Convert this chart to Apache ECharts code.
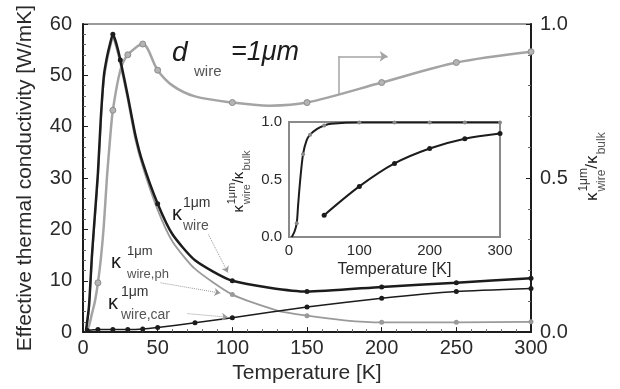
<!DOCTYPE html>
<html>
<head>
<meta charset="utf-8">
<script src="https://cdn.jsdelivr.net/npm/echarts@6/dist/echarts.min.js"></script>
<style>
  html, body { margin: 0; padding: 0; background: #fff; }
  #chart { width: 620px; height: 389px; }
</style>
</head>
<body>
<div id="chart"></div>
<script>
// main panel: total / phonon / carrier conductivity of the 1um wire [W/mK]
const tempTotal = [2, 4, 6, 8, 10, 12, 14, 16, 18, 20, 22, 25, 30, 35, 40, 50, 60, 75, 100, 150, 200, 250, 300]
const kTotal = [0.3, 5, 15, 23, 31, 42, 50, 53.5, 56, 58, 56.5, 53, 46, 38.5, 33, 25, 19, 14, 10, 7.9, 8.8, 9.6, 10.5]
const totalMarks = [20, 25, 50, 100, 150, 200, 250, 300]

const tempPh = [2, 4, 6, 8, 10, 12, 14, 16, 18, 20, 22, 25, 30, 35, 40, 50, 60, 75, 100, 130, 150, 175, 200, 250, 300]
const kPh = [0.1, 4.4, 14.2, 22.2, 30, 41, 49, 52.6, 55.2, 57.2, 55.7, 52.2, 45.2, 37.6, 32.2, 23.8, 17.6, 12.3, 7.3, 4.2, 3.2, 2.3, 1.9, 1.9, 2.0]
const phMarks = [100, 150, 200, 250, 300]

const tempCar = [3, 10, 20, 30, 40, 50, 75, 100, 150, 200, 250, 300]
const kCar = [0.3, 0.5, 0.5, 0.5, 0.6, 0.9, 1.8, 2.8, 4.9, 6.6, 7.9, 8.5]

// ratio to bulk (right axis)
const tempRatio = [2, 4, 6, 8, 10, 12, 14, 16, 18, 20, 25, 30, 40, 50, 60, 75, 100, 125, 150, 200, 250, 300]
const ratioWire = [0, 0.02, 0.06, 0.1, 0.16, 0.24, 0.35, 0.5, 0.62, 0.72, 0.85, 0.9, 0.935, 0.85, 0.8, 0.765, 0.745, 0.735, 0.745, 0.81, 0.875, 0.91]
const ratioMarks = [10, 20, 30, 40, 50, 100, 150, 200, 250, 300]

// inset: phonon and carrier ratios
const insetTempPh = [4, 8, 11, 13, 16, 20, 25, 30, 40, 50, 60, 100, 150, 200, 250, 300]
const insetPh = [0, 0.05, 0.12, 0.28, 0.5, 0.72, 0.84, 0.89, 0.94, 0.97, 0.985, 0.995, 0.995, 0.995, 0.995, 0.995]
const insetPhMarks = [11, 20, 30, 50, 100, 150, 200, 250, 300]
const insetTempCar = [50, 100, 150, 200, 250, 300]
const insetCar = [0.19, 0.44, 0.64, 0.77, 0.855, 0.9]

const tempTicks = [0, 50, 100, 150, 200, 250, 300]

const BLACK = '#1c1c1c'
const GRAY = '#a4a4a4'
const FONT = 'Liberation Sans'

function pts(ts, vs, marks) {
  return ts.map((t, i) => ({
    value: [t, vs[i]],
    symbol: marks && !marks.includes(t) ? 'none' : 'circle'
  }))
}

// kappa with stacked superscript / subscript
function kappa(x, y, sup, sub, fs, small, gap, rot) {
  const kids = [
    { type: 'text', x: 0, y: 0, style: { text: 'κ', font: fs + 'px ' + FONT, fill: BLACK, verticalAlign: 'middle' } }
  ]
  if (sup) kids.push({ type: 'text', x: gap, y: -fs * 0.55, style: { text: sup, font: small + 'px ' + FONT, fill: '#333', verticalAlign: 'middle' } })
  if (sub) kids.push({ type: 'text', x: gap, y: fs * 0.6, style: { text: sub, font: small + 'px ' + FONT, fill: '#555', verticalAlign: 'middle' } })
  return { type: 'group', x: x, y: y, rotation: rot || 0, children: kids }
}

// rotated ratio label  κ^1μm_wire / κ_bulk
function ratioLabel(cx, cy, fs, small) {
  const w = fs * 0.55
  const part = small * 1.9
  const total = w + part + fs * 0.3 + w + small * 2.1
  const x0 = -total / 2
  const kids = [
    { type: 'text', x: x0, y: 0, style: { text: 'κ', font: fs + 'px ' + FONT, fill: BLACK, verticalAlign: 'middle' } },
    { type: 'text', x: x0 + w, y: -fs * 0.5, style: { text: '1μm', font: small + 'px ' + FONT, fill: '#333', verticalAlign: 'middle' } },
    { type: 'text', x: x0 + w, y: fs * 0.55, style: { text: 'wire', font: small + 'px ' + FONT, fill: '#555', verticalAlign: 'middle' } },
    { type: 'text', x: x0 + w + part, y: 0, style: { text: '/κ', font: fs + 'px ' + FONT, fill: BLACK, verticalAlign: 'middle' } },
    { type: 'text', x: x0 + w + part + fs * 0.85, y: fs * 0.55, style: { text: 'bulk', font: small + 'px ' + FONT, fill: '#555', verticalAlign: 'middle' } }
  ]
  return { type: 'group', x: cx, y: cy, rotation: Math.PI / 2, children: kids }
}

const chart = echarts.init(document.getElementById('chart'))

const axisText = { color: '#2a2a2a', fontFamily: FONT, fontSize: 20 }
const insetText = { color: '#2a2a2a', fontFamily: FONT, fontSize: 15 }

const option = {
  animation: false,
  backgroundColor: '#fff',
  grid: [
    { left: 83, right: 89, top: 24, bottom: 52, show: true, borderColor: '#9a9a9a', borderWidth: 2 },
    { left: 289, top: 122, width: 211, height: 115, show: true, borderColor: '#8a8a8a', borderWidth: 2, backgroundColor: '#fff', z: 5 }
  ],
  xAxis: [
    {
      type: 'value', gridIndex: 0, min: 0, max: 300, interval: 50,
      name: 'Temperature [K]', nameLocation: 'middle', nameGap: 25,
      nameTextStyle: { color: '#2a2a2a', fontFamily: FONT, fontSize: 21 },
      axisLine: { lineStyle: { color: BLACK, width: 2 } },
      axisTick: { inside: true, length: 5, lineStyle: { color: BLACK } },
      minorTick: { show: true, splitNumber: 5, length: 3, lineStyle: { color: '#666' } },
      axisLabel: { ...axisText, margin: 6, customValues: tempTicks },
      splitLine: { show: false }
    },
    {
      type: 'value', gridIndex: 1, min: 0, max: 300, interval: 100,
      name: 'Temperature [K]', nameLocation: 'middle', nameGap: 25,
      nameTextStyle: { color: '#2a2a2a', fontFamily: FONT, fontSize: 16 },
      axisLine: { lineStyle: { color: '#777', width: 2 } },
      axisTick: { inside: true, length: 4, lineStyle: { color: '#777' } },
      minorTick: { show: true, splitNumber: 4, length: 2, lineStyle: { color: '#888' } },
      axisLabel: { ...insetText, margin: 6 },
      splitLine: { show: false }
    }
  ],
  yAxis: [
    {
      type: 'value', gridIndex: 0, min: 0, max: 60, interval: 10,
      name: 'Effective thermal conductivity [W/mK]', nameLocation: 'middle', nameGap: 47,
      nameTextStyle: { color: '#2a2a2a', fontFamily: FONT, fontSize: 21 },
      axisLine: { show: true, lineStyle: { color: BLACK, width: 2 } },
      axisTick: { inside: true, length: 5, lineStyle: { color: BLACK } },
      minorTick: { show: true, splitNumber: 5, length: 3, lineStyle: { color: '#666' } },
      axisLabel: { ...axisText, margin: 11 },
      splitLine: { show: false }
    },
    {
      type: 'value', gridIndex: 0, position: 'right', min: 0, max: 1, interval: 0.5,
      axisLine: { show: true, lineStyle: { color: BLACK, width: 2 } },
      axisTick: { inside: true, length: 5, lineStyle: { color: BLACK } },
      minorTick: { show: true, splitNumber: 5, length: 3, lineStyle: { color: '#666' } },
      axisLabel: { ...axisText, margin: 9, formatter: v => v.toFixed(1) },
      splitLine: { show: false }
    },
    {
      type: 'value', gridIndex: 1, min: 0, max: 1, interval: 0.5,
      axisLine: { show: true, lineStyle: { color: '#444', width: 2 } },
      axisTick: { inside: true, length: 4, lineStyle: { color: '#555' } },
      minorTick: { show: true, splitNumber: 5, length: 2, lineStyle: { color: '#888' } },
      axisLabel: { ...insetText, margin: 7, formatter: v => v.toFixed(1) },
      splitLine: { show: false }
    }
  ],
  series: [
    {
      name: 'ratio', type: 'line', xAxisIndex: 0, yAxisIndex: 1,
      data: pts(tempRatio, ratioWire, ratioMarks),
      smooth: 0.3, symbolSize: 6,
      lineStyle: { color: GRAY, width: 2.5 },
      itemStyle: { color: '#b4b4b4', borderColor: '#8c8c8c', borderWidth: 1 },
      markLine: {
        silent: true, animation: false,
        label: { show: false },
        lineStyle: { color: GRAY, width: 1.5, type: 'solid' },
        symbolSize: 8,
        data: [
          [{ coord: [171, 0.77], symbol: 'none' }, { coord: [171, 0.895], symbol: 'none' }],
          [{ coord: [171, 0.895], symbol: 'none' }, { coord: [204, 0.895], symbol: 'arrow' }]
        ]
      }
    },
    {
      name: 'ph', type: 'line', xAxisIndex: 0, yAxisIndex: 0,
      data: pts(tempPh, kPh, phMarks),
      smooth: 0.2, symbolSize: 5,
      lineStyle: { color: '#9a9a9a', width: 1.8 },
      itemStyle: { color: '#999' }
    },
    {
      name: 'car', type: 'line', xAxisIndex: 0, yAxisIndex: 0,
      data: pts(tempCar, kCar),
      smooth: 0.2, symbolSize: 5,
      lineStyle: { color: BLACK, width: 1.5 },
      itemStyle: { color: BLACK }
    },
    {
      name: 'total', type: 'line', xAxisIndex: 0, yAxisIndex: 0,
      data: pts(tempTotal, kTotal, totalMarks),
      smooth: 0.2, symbolSize: 5,
      lineStyle: { color: BLACK, width: 2.5 },
      itemStyle: { color: BLACK },
      markLine: {
        silent: true, animation: false,
        label: { show: false },
        lineStyle: { color: '#999', width: 1, type: 'dotted' },
        symbol: ['none', 'arrow'], symbolSize: 6,
        data: [
          [{ coord: [84, 19] }, { coord: [97, 11.6] }],
          [{ coord: [52, 9.6] }, { coord: [92, 7.6] }],
          [{ coord: [70, 3.6] }, { coord: [97, 2.9] }]
        ]
      }
    },
    {
      name: 'inset ph', type: 'line', xAxisIndex: 1, yAxisIndex: 2, z: 6,
      data: pts(insetTempPh, insetPh, insetPhMarks),
      smooth: 0.3, symbolSize: 4,
      lineStyle: { color: BLACK, width: 2 },
      itemStyle: { color: '#888' }
    },
    {
      name: 'inset car', type: 'line', xAxisIndex: 1, yAxisIndex: 2, z: 6,
      data: pts(insetTempCar, insetCar),
      smooth: 0.3, symbolSize: 5,
      lineStyle: { color: BLACK, width: 2 },
      itemStyle: { color: BLACK }
    }
  ],
  graphic: [
    { type: 'text', x: 172, y: 53, style: { text: 'd', font: 'italic 28px ' + FONT, fill: BLACK, verticalAlign: 'middle' } },
    { type: 'text', x: 194, y: 72, style: { text: 'wire', font: '15px ' + FONT, fill: '#555', verticalAlign: 'middle' } },
    { type: 'text', x: 231, y: 52, style: { text: '=1μm', font: 'italic 27px ' + FONT, fill: BLACK, verticalAlign: 'middle' } },
    kappa(172, 214, '1μm', 'wire', 20, 14, 11),
    kappa(111, 262, '1μm', 'wire,ph', 20, 13, 16),
    kappa(108, 303, '1μm', 'wire,car', 20, 14, 13),
    kappa(337, 136, null, 'ph', 16, 13, 7),
    kappa(378, 182, null, 'car', 16, 13, 10),
    ratioLabel(239, 180, 15, 11),
    ratioLabel(592, 165, 17, 12)
  ]
}

chart.setOption(option)
</script>
</body>
</html>
